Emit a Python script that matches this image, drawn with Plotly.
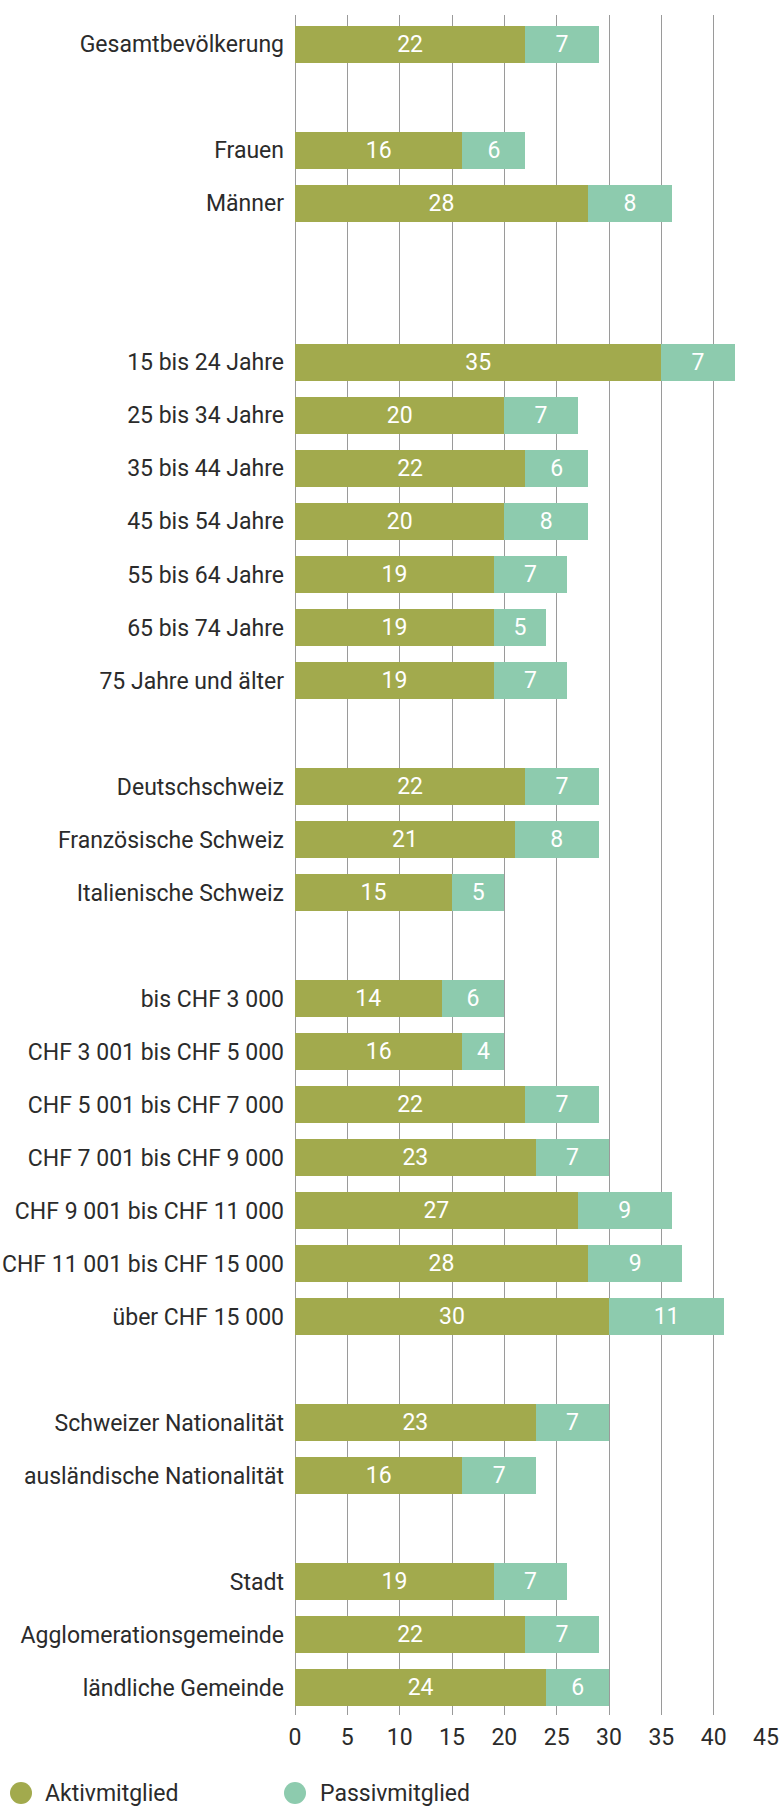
import plotly.graph_objects as go

categories = [
    "Gesamtbevölkerung",
    "Frauen", "Männer",
    "15 bis 24 Jahre", "25 bis 34 Jahre", "35 bis 44 Jahre", "45 bis 54 Jahre",
    "55 bis 64 Jahre", "65 bis 74 Jahre", "75 Jahre und älter",
    "Deutschschweiz", "Französische Schweiz", "Italienische Schweiz",
    "bis CHF 3 000", "CHF 3 001 bis CHF 5 000", "CHF 5 001 bis CHF 7 000",
    "CHF 7 001 bis CHF 9 000", "CHF 9 001 bis CHF 11 000",
    "CHF 11 001 bis CHF 15 000", "über CHF 15 000",
    "Schweizer Nationalität", "ausländische Nationalität",
    "Stadt", "Agglomerationsgemeinde", "ländliche Gemeinde",
]
aktiv = [22, 16, 28, 35, 20, 22, 20, 19, 19, 19, 22, 21, 15,
         14, 16, 22, 23, 27, 28, 30, 23, 16, 19, 22, 24]
passiv = [7, 6, 8, 7, 7, 6, 8, 7, 5, 7, 7, 8, 5,
          6, 4, 7, 7, 9, 9, 11, 7, 7, 7, 7, 6]
series_names = ["Aktivmitglied", "Passivmitglied"]
x_ticks = [0, 5, 10, 15, 20, 25, 30, 35, 40, 45]

# category order with blank spacer rows between groups
groups = [categories[0:1], categories[1:3], categories[3:10], categories[10:13],
          categories[13:20], categories[20:22], categories[22:25]]
spacer_counts = [1, 2, 1, 1, 1, 1]
order = []
k = 0
for i, g in enumerate(groups):
    order += g
    if i < len(spacer_counts):
        for _ in range(spacer_counts[i]):
            k += 1
            order.append(" " * k)

C_AKTIV = "#A2AA4D"
C_PASSIV = "#8DCBAE"
COLORS = [C_AKTIV, C_PASSIV]
FONT = "Roboto"
FS = 23
TXT = "#2b2b2b"

W, H = 782, 1809
ML, MR, MT, MB = 295, 16, 15, 94
PW, PH = W - ML - MR, H - MT - MB

fig = go.Figure()
for vals, name, col in zip([aktiv, passiv], series_names, COLORS):
    fig.add_trace(go.Bar(
        y=categories, x=vals, orientation="h", name=name,
        marker=dict(color=col, line=dict(width=0)),
        text=vals, textposition="inside", insidetextanchor="middle", textangle=0,
        textfont=dict(color="white", size=FS, family=FONT),
        showlegend=False, hoverinfo="x+y",
    ))

# custom legend (round markers) below the chart
leg_marker_px = [21, 295]
leg_text_px = [43, 318]
leg_y_px = 1793
yp = (MT + PH - leg_y_px) / PH
for name, col, mx, tx in zip(series_names, COLORS, leg_marker_px, leg_text_px):
    fig.add_shape(
        type="circle", xref="paper", yref="paper",
        xsizemode="pixel", ysizemode="pixel",
        xanchor=(mx - ML) / PW, yanchor=yp,
        x0=-11, x1=11, y0=-11, y1=11,
        fillcolor=col, line=dict(width=0),
    )
    fig.add_annotation(
        text=name, xref="paper", yref="paper",
        x=(tx - ML) / PW, y=yp, xanchor="left", yanchor="middle",
        showarrow=False, font=dict(size=FS, color=TXT, family=FONT),
    )

fig.update_layout(
    width=W, height=H,
    barmode="stack", bargap=0.308,
    plot_bgcolor="white", paper_bgcolor="white",
    margin=dict(l=ML, r=MR, t=MT, b=MB, autoexpand=False),
    font=dict(family=FONT, size=FS, color=TXT),
    showlegend=False,
    xaxis=dict(
        range=[0, 45], tickvals=x_ticks, ticktext=[str(v) for v in x_ticks],
        showgrid=True, gridcolor="#9a9a9a", gridwidth=1,
        zeroline=True, zerolinecolor="#9a9a9a", zerolinewidth=1,
        showline=False, ticks="", ticklabelstandoff=6,
        tickfont=dict(size=FS, color=TXT), fixedrange=True,
    ),
    yaxis=dict(
        type="category", categoryorder="array", categoryarray=order,
        range=[len(order) - 0.485, -0.553],
        showgrid=False, zeroline=False, showline=False, ticks="",
        ticklabelstandoff=10, tickfont=dict(size=FS, color=TXT),
        fixedrange=True,
    ),
)

fig.write_html("out.html", config={"displayModeBar": False},
               post_script="document.body.style.margin='0';")
